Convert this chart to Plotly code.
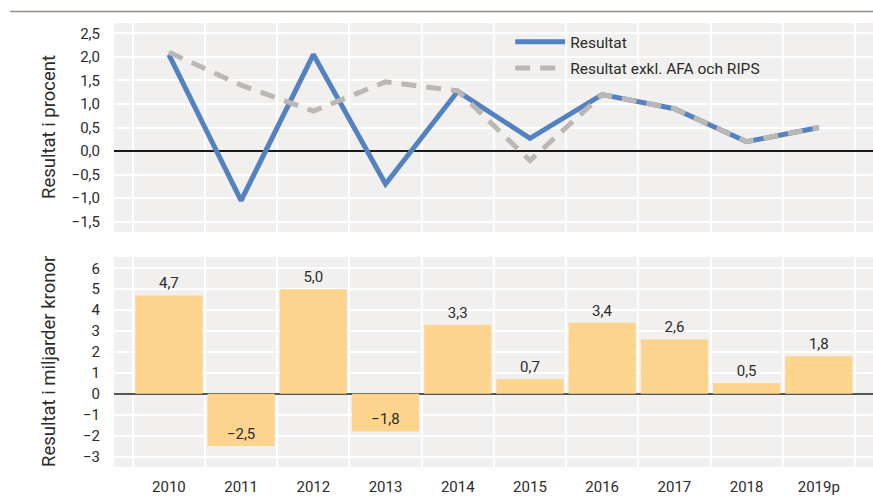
import plotly.graph_objects as go

years = ["2010", "2011", "2012", "2013", "2014", "2015", "2016", "2017", "2018", "2019p"]
resultat_pct = [2.05, -1.05, 2.05, -0.7, 1.27, 0.27, 1.2, 0.9, 0.2, 0.5]
resultat_exkl_pct = [2.1, 1.4, 0.85, 1.47, 1.28, -0.2, 1.2, 0.9, 0.2, 0.5]
resultat_mdkr = [4.7, -2.5, 5.0, -1.8, 3.3, 0.7, 3.4, 2.6, 0.5, 1.8]

top_ticks = [2.5, 2.0, 1.5, 1.0, 0.5, 0.0, -0.5, -1.0, -1.5]
bottom_ticks = [6, 5, 4, 3, 2, 1, 0, -1, -2, -3]


def fmt(v, d):
    s = f"{v:.{d}f}".replace(".", ",")
    return s.replace("-", "\u2212")


FONT = "Roboto, sans-serif"
BLUE = "#5482c1"
GRAY = "#bbb7b4"
BAR = "#fdd48e"
BG = "#f1f0ee"
TXT = "#2b2b2b"

fig = go.Figure()

fig.add_trace(go.Scatter(
    x=years, y=resultat_pct, mode="lines", name="Resultat",
    line=dict(color=BLUE, width=5), xaxis="x", yaxis="y",
    legendgroup="a",
))
fig.add_trace(go.Scatter(
    x=years, y=resultat_exkl_pct, mode="lines", name="Resultat exkl. AFA och RIPS",
    line=dict(color=GRAY, width=5, dash="15px,10px"), xaxis="x", yaxis="y",
    legendgroup="b",
))

fig.add_trace(go.Bar(
    x=years, y=resultat_mdkr, marker=dict(color=BAR, line=dict(width=0)),
    text=[fmt(v, 1) for v in resultat_mdkr],
    textposition=["outside" if v >= 0 else "inside" for v in resultat_mdkr],
    insidetextanchor="end",
    textfont=dict(color=TXT, size=15, family=FONT),
    insidetextfont=dict(color=TXT, size=15, family=FONT),
    outsidetextfont=dict(color=TXT, size=15, family=FONT),
    cliponaxis=False, showlegend=False, xaxis="x2", yaxis="y2",
))

xcommon = dict(
    type="category", range=[-0.76, 9.75], showgrid=True, gridcolor="white",
    gridwidth=2, tickson="boundaries", ticks="", showline=False, zeroline=False,
    fixedrange=True,
)

fig.update_layout(
    width=873, height=497,
    margin=dict(l=114, r=0, t=23, b=30),
    paper_bgcolor="white", plot_bgcolor=BG,
    font=dict(family=FONT, size=15, color=TXT),
    bargap=0.07,
    showlegend=True,
    legend=dict(
        x=0.522, y=0.995, xanchor="left", yanchor="top",
        bgcolor="rgba(0,0,0,0)", font=dict(size=15.5, color=TXT, family=FONT),
        traceorder="grouped", tracegroupgap=3, itemwidth=50,
    ),
    xaxis=dict(**xcommon, anchor="y", showticklabels=False),
    xaxis2=dict(**xcommon, anchor="y2", showticklabels=True,
                tickfont=dict(size=15, color=TXT), ticklabelstandoff=9),
    yaxis=dict(
        domain=[0.529, 1], range=[-1.72, 2.72], tickvals=top_ticks,
        ticktext=[fmt(v, 1) for v in top_ticks], showgrid=True,
        gridcolor="white", gridwidth=2, zeroline=True, zerolinecolor="#1a1a1a",
        zerolinewidth=1.5, ticklabelstandoff=13, tickfont=dict(size=15, color=TXT),
        fixedrange=True,
    ),
    yaxis2=dict(
        domain=[0, 0.473], range=[-3.5, 6.54], tickvals=bottom_ticks,
        ticktext=[fmt(v, 0) for v in bottom_ticks], showgrid=True,
        gridcolor="white", gridwidth=2, zeroline=True, zerolinecolor="#555555",
        zerolinewidth=2, ticklabelstandoff=13, tickfont=dict(size=15, color=TXT),
        fixedrange=True,
    ),
    shapes=[dict(
        type="line", xref="paper", yref="paper",
        x0=(10 - 114) / 759, x1=1.0, y0=(467 - 11.5) / 444, y1=(467 - 11.5) / 444,
        line=dict(color="#978d84", width=1.5),
    )],
    annotations=[
        dict(text="Resultat i procent", xref="paper", yref="paper",
             x=(49 - 114) / 759, y=(467 - 127) / 444, textangle=-90,
             showarrow=False, font=dict(size=18.5, color=TXT, family=FONT),
             xanchor="center", yanchor="middle"),
        dict(text="Resultat i miljarder kronor", xref="paper", yref="paper",
             x=(49 - 114) / 759, y=(467 - 362) / 444, textangle=-90,
             showarrow=False, font=dict(size=18.5, color=TXT, family=FONT),
             xanchor="center", yanchor="middle"),
    ],
)

fig.write_html(
    "out.html",
    config={"displayModeBar": False},
    post_script="document.body.style.margin='0';document.body.style.overflow='hidden';",
)
